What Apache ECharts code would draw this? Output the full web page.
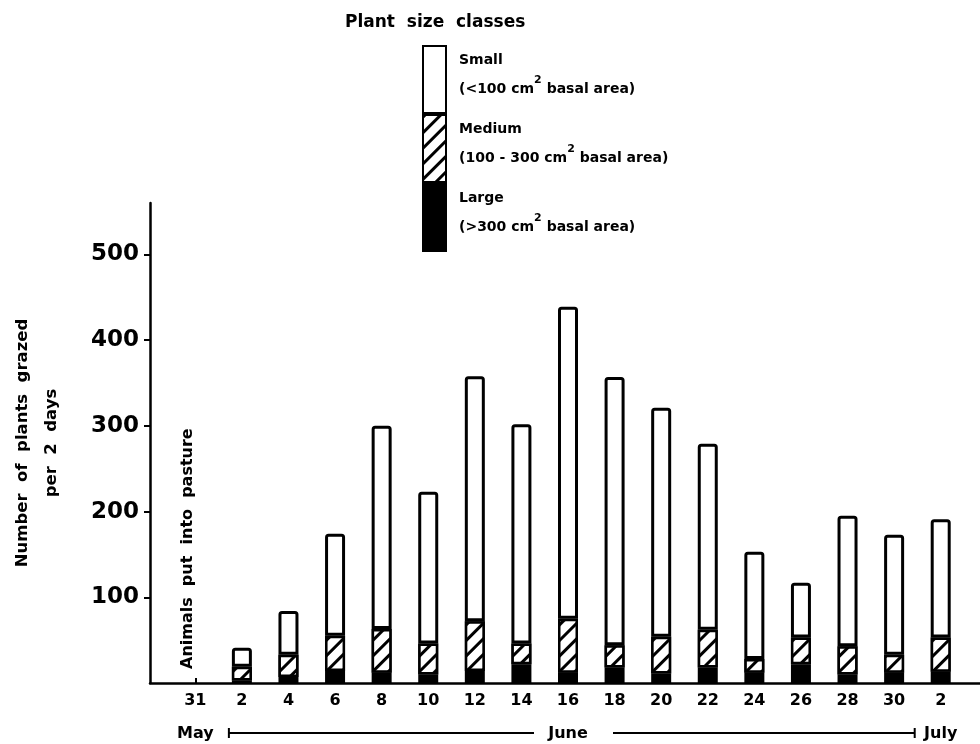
<!DOCTYPE html>
<html>
<head>
<meta charset="utf-8">
<script src="https://cdn.jsdelivr.net/npm/echarts@6/dist/echarts.min.js"></script>
<style>
html,body{margin:0;padding:0;background:#fff;}
#c{width:980px;height:744px;}
</style>
</head>
<body>
<div id="c"></div>
<script>
// ---- data ----
const categories = ['05-31','06-02','06-04','06-06','06-08','06-10','06-12','06-14','06-16','06-18','06-20','06-22','06-24','06-26','06-28','06-30','07-02'];
const dayLabels = ['31','2','4','6','8','10','12','14','16','18','20','22','24','26','28','30','2'];
const monthLabels = ['May','','','','','','','','June','','','','','','','','July'];
const large  = [null, 3, 7, 14, 12, 10, 14, 22, 12, 18, 11, 18, 12, 22, 10, 12, 13];
const medium = [null, 16, 26, 41, 51, 36, 58, 24, 63, 26, 43, 44, 16, 31, 33, 21, 40];
const small  = [null, 22, 51, 119, 237, 177, 286, 256, 364, 313, 267, 217, 125, 64, 152, 140, 138];
const yTicks = [100, 200, 300, 400, 500];
const legendText = {
  'Small': ['Small', '(<100 cm', ' basal area)'],
  'Medium': ['Medium', '(100 - 300 cm', ' basal area)'],
  'Large': ['Large', '(>300 cm', ' basal area)']
};

const FONT = 'DejaVu Sans';
const chart = echarts.init(document.getElementById('c'), null, {renderer: 'canvas'});

const hatch = {
  symbol: 'rect', symbolSize: 1,
  dashArrayX: [1, 0], dashArrayY: [2.4, 7.5],
  rotation: -Math.PI / 4,
  color: '#000', backgroundColor: '#fff'
};

const option = {
  animation: false,
  backgroundColor: '#fff',
  textStyle: {fontFamily: FONT, color: '#000'},
  title: {
    text: 'Plant  size  classes',
    left: 345, top: 14, padding: 0,
    textStyle: {fontFamily: FONT, fontSize: 17, fontWeight: 'bold', color: '#000'}
  },
  legend: {
    data: ['Small', 'Medium', 'Large'],
    orient: 'vertical',
    left: 422, top: 45, padding: 0,
    icon: 'rect',
    itemWidth: 23, itemHeight: 67, itemGap: 0,
    selectedMode: false,
    formatter: n => '{a|' + legendText[n][0] + '}\n{a|' + legendText[n][1] + '}{s|2}{a|' + legendText[n][2] + '}',
    textStyle: {
      padding: [0, 0, 10, 8],
      rich: {
        a: {fontFamily: FONT, fontSize: 14, fontWeight: 'bold', color: '#000', lineHeight: 29},
        s: {fontFamily: FONT, fontSize: 11, fontWeight: 'bold', color: '#000', lineHeight: 18, verticalAlign: 'top'}
      }
    }
  },
  grid: [
    {left: 172, right: 16, top: 203, bottom: 61},
    {left: 147, right: 0, top: 203, bottom: 61}
  ],
  xAxis: [
    {
      type: 'category', gridIndex: 0, data: categories,
      axisLine: {show: false},
      axisTick: {show: true, alignWithLabel: true, inside: true, length: 5,
        interval: i => i === 0, lineStyle: {color: '#000', width: 2}},
      axisLabel: {interval: 0, margin: 10, fontFamily: FONT, fontSize: 16, fontWeight: 'bold', color: '#000',
        formatter: (v, i) => dayLabels[i]},
      splitLine: {show: false}
    },
    {
      type: 'category', gridIndex: 0, data: categories, position: 'bottom', offset: 33,
      axisLine: {show: false}, axisTick: {show: false},
      axisLabel: {interval: 0, margin: 10, fontFamily: FONT, fontSize: 16, fontWeight: 'bold', color: '#000',
        formatter: (v, i) => monthLabels[i]},
      splitLine: {show: false}
    },
    {
      type: 'value', gridIndex: 1, min: 0, max: 1,
      axisLine: {show: true, onZero: false, lineStyle: {color: '#000', width: 2.5}},
      axisTick: {show: false}, axisLabel: {show: false}, splitLine: {show: false}
    }
  ],
  yAxis: [
    {
      type: 'value', gridIndex: 0, min: 0, max: 560, show: false
    },
    {
      type: 'value', gridIndex: 1, min: 0, max: 560,
      name: 'Number  of  plants  grazed\nper  2  days',
      nameLocation: 'middle', nameGap: 84, nameRotate: 90,
      nameTextStyle: {fontFamily: FONT, fontSize: 16.5, fontWeight: 'bold', color: '#000', lineHeight: 29, align: 'center'},
      axisLine: {show: true, lineStyle: {color: '#000', width: 2.5}},
      axisTick: {show: true, length: 6, customValues: yTicks, lineStyle: {color: '#000', width: 2}},
      axisLabel: {customValues: yTicks, margin: 11, fontFamily: FONT, fontSize: 23, fontWeight: 'bold', color: '#000'},
      splitLine: {show: false}
    }
  ],
  series: [
    {
      name: 'Large', type: 'bar', stack: 'g', xAxisIndex: 0, yAxisIndex: 0,
      data: large, barWidth: 20,
      itemStyle: {color: '#000', borderColor: '#000', borderWidth: 2.5}
    },
    {
      name: 'Medium', type: 'bar', stack: 'g', xAxisIndex: 0, yAxisIndex: 0,
      data: medium, barWidth: 20,
      itemStyle: {color: '#fff', borderColor: '#000', borderWidth: 2.5, decal: hatch}
    },
    {
      name: 'Small', type: 'bar', stack: 'g', xAxisIndex: 0, yAxisIndex: 0,
      data: small, barWidth: 20,
      itemStyle: {color: '#fff', borderColor: '#000', borderWidth: 3, borderRadius: [2, 2, 0, 0]}
    }
  ]
};
chart.setOption(option);

// annotations placed from axis positions
const px = i => chart.convertToPixel({xAxisIndex: 0}, i);
const base = chart.convertToPixel({yAxisIndex: 0}, 0);
const rowY = 733;
const ln = {stroke: '#000', lineWidth: 2};
chart.setOption({
  graphic: [
    {type: 'text', x: px(0) - 7, y: base - 14, rotation: Math.PI / 2,
      style: {text: 'Animals  put  into  pasture', font: 'bold 16px ' + FONT, fill: '#000', align: 'left', verticalAlign: 'middle'}},
    {type: 'line', shape: {x1: px(1) - 13, y1: rowY, x2: px(8) - 34, y2: rowY}, style: ln},
    {type: 'line', shape: {x1: px(1) - 13, y1: rowY - 5, x2: px(1) - 13, y2: rowY + 5}, style: ln},
    {type: 'line', shape: {x1: px(8) + 45, y1: rowY, x2: px(16) - 26, y2: rowY}, style: ln},
    {type: 'line', shape: {x1: px(16) - 26, y1: rowY - 5, x2: px(16) - 26, y2: rowY + 5}, style: ln}
  ]
});
</script>
</body>
</html>
